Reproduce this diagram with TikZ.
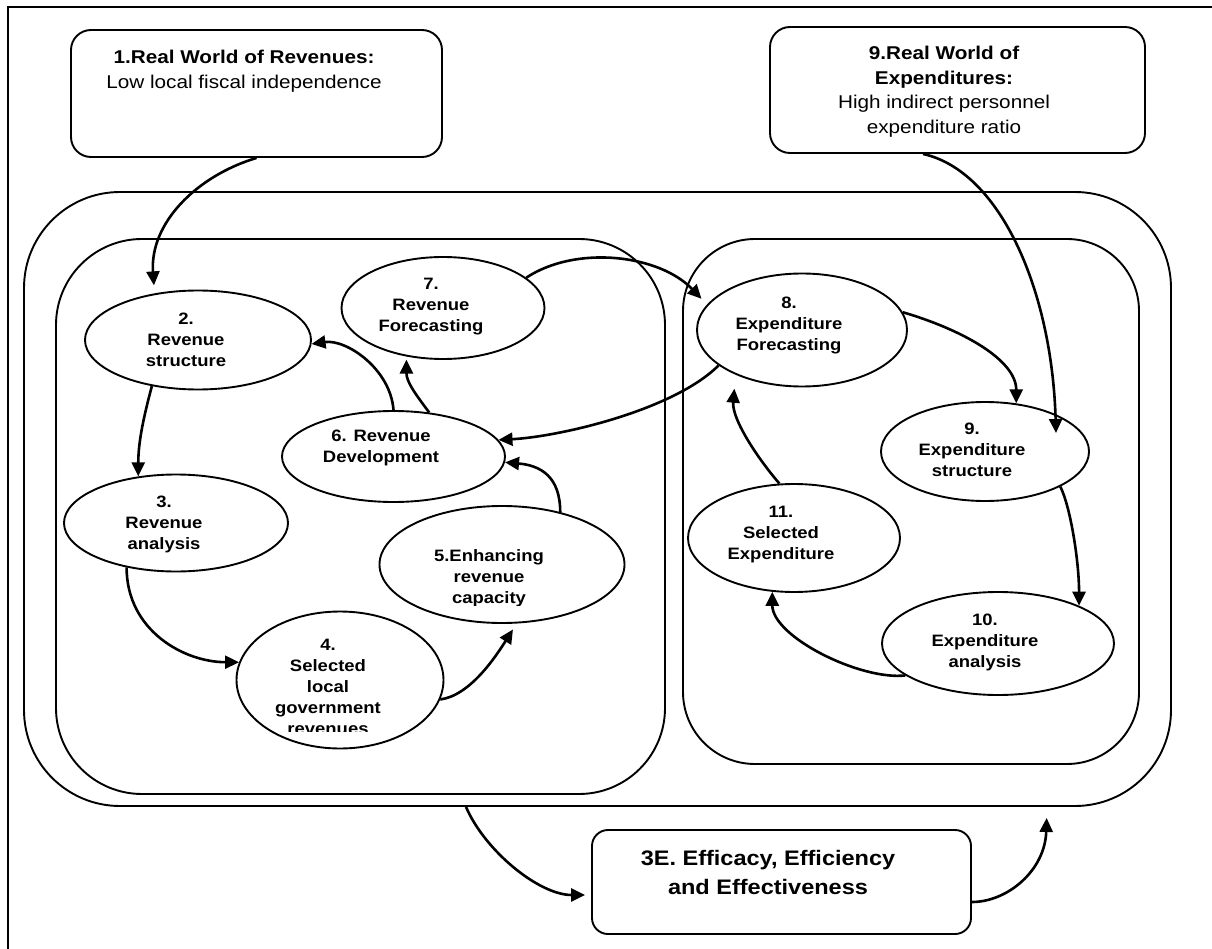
\documentclass[tikz,border=0pt]{standalone}
\usepackage{fontspec}
\setmainfont{Liberation Sans}[FakeStretch=1.12]
\usetikzlibrary{shapes.geometric,arrows.meta}

\begin{document}
\begin{tikzpicture}[x=1pt, y=-1pt,
    stage/.style={draw, ellipse, line width=1.9pt, inner sep=0pt},
    panel/.style={draw, rectangle, line width=1.9pt, inner sep=0pt},
    lbl/.style={align=center, inner sep=0pt, font=\bfseries\fontsize{16.5}{21}\selectfont},
    flow/.style={-{Triangle[length=14pt,width=13pt]}, line width=2.6pt}]
    \useasboundingbox (0,0) rectangle (1212,949);

    % Frame (left and top edges only fall on the page)
    \draw[line width=1.6pt] (8,949) -- (8,7) -- (1212,7);

    % Panels
    \node[panel, rounded corners=96pt, minimum width=1147pt, minimum height=614pt] (outer) at (597.5,499) {};
    \node[panel, rounded corners=86pt, minimum width=609pt, minimum height=555pt] (rev) at (360.5,516.5) {};
    \node[panel, rounded corners=72pt, minimum width=456pt, minimum height=525pt] (exp) at (911,501.5) {};

    % Real world boxes and the 3E box
    \node[panel, rounded corners=20pt, minimum width=371pt, minimum height=127pt] (world1) at (256.5,93.5) {};
    \node[panel, rounded corners=20pt, minimum width=375pt, minimum height=126pt] (world9) at (957.5,90) {};
    \node[panel, rounded corners=16pt, minimum width=379pt, minimum height=104pt] (eee) at (781.5,882) {};
    \node[align=center, inner sep=0pt, font=\fontsize{18.5}{24.5}\selectfont] (world1txt) at (244,71)
        {\textbf{1.Real World of Revenues:}\\Low local fiscal independence};
    \node[align=center, inner sep=0pt, font=\fontsize{18.5}{24.5}\selectfont] (world9txt) at (944,91.5)
        {\textbf{9.Real World of}\\\textbf{Expenditures:}\\High indirect personnel\\expenditure ratio};
    \node[lbl, font=\bfseries\fontsize{21}{29}\selectfont] (eeetxt) at (768,872.5) {3E. Efficacy, Efficiency\\and Effectiveness};

    % Revenue stages
    \node[stage, minimum width=226pt, minimum height=99pt] (s2) at (198,340) {};
    \node[stage, minimum width=224pt, minimum height=97pt] (s3) at (176,523) {};
    \node[stage, minimum width=207pt, minimum height=137pt] (s4) at (340,680) {};
    \node[stage, minimum width=245pt, minimum height=117pt] (s5) at (502,564.5) {};
    \node[stage, minimum width=223pt, minimum height=91pt] (s6) at (393.5,456.5) {};
    \node[stage, minimum width=203pt, minimum height=102pt] (s7) at (443,308) {};
    \node[lbl] (s2txt) at (186,340) {2.\\Revenue\\structure};
    \node[lbl] (s3txt) at (164,524) {3.\\Revenue\\analysis};
    \begin{scope}
        \clip (230,600) rectangle (450,731);
        \node[lbl] (s4txt) at (328,687) {4.\\Selected\\local\\government\\revenues};
    \end{scope}
    \begin{scope}
        \clip (380,520) rectangle (620,605);
        \node[lbl] (s5txt) at (489,578) {5.Enhancing\\revenue\\capacity};
    \end{scope}
    \node[lbl] (s6txt) at (381,448) {6. Revenue\\Development};
    \node[lbl] (s7txt) at (431,307) {7.\\Revenue\\Forecasting};

    % Expenditure stages
    \node[stage, minimum width=210pt, minimum height=113pt] (s8) at (802,330) {};
    \node[stage, minimum width=208pt, minimum height=99pt] (s9) at (985,451.5) {};
    \node[stage, minimum width=232pt, minimum height=103pt] (s10) at (998,643.5) {};
    \node[stage, minimum width=212pt, minimum height=108pt] (s11) at (794,538) {};
    \node[lbl] (s8txt) at (789,325) {8.\\Expenditure\\Forecasting};
    \node[lbl] (s9txt) at (972,450) {9.\\Expenditure\\structure};
    \node[lbl] (s10txt) at (985,642) {10.\\Expenditure\\analysis};
    \node[lbl] (s11txt) at (781,535) {11.\\Selected\\Expenditure};
    \coordinate (s9in) at (1056,433);

    % Revenue cycle
    \draw[flow, shorten >=8pt] (world1.south) .. controls +(-60,18) and +(-5,-70) .. (s2.133);
    \draw[flow] (s2.225) .. controls +(-8,30) and +(0,-35) .. (s3.129);
    \draw[flow] (s3.222) .. controls +(0,63) and +(-55,0) .. (s4.170);
    \draw[flow, shorten >=7pt] (s4.-11) .. controls +(30,-4) and +(-21,33) .. (s5.-76);
    \draw[flow] (s5.42) .. controls +(0,-36) and +(35,3) .. (s6.-3);
    \draw[flow] (s6.north) .. controls +(-3,-41) and +(35,-5) .. (s2.-2);
    \draw[flow, shorten >=3pt] (s6.51) .. controls +(-15,-20) and +(0,25) .. (s7.233);
    \draw[flow, shorten >=8pt] (s7.20) .. controls +(50,-33) and +(-48,-50) .. (s8.165);

    % Expenditure cycle
    \draw[flow] (s8.10) .. controls +(58,17) and +(0,-44) .. (s9.57);
    \draw[flow] ([xshift=-34.5pt]world9.south) .. controls +(77,17) and +(-4,-143) .. (s9in);
    \draw[flow] (s9.-25) .. controls +(10,20) and +(0,-45) .. (s10.25);
    \draw[flow] (s10.199) .. controls +(-45,5) and +(0,45) .. (s11.248);
    \draw[flow, shorten >=14pt] (s11.105) .. controls +(-20,-23) and +(-4,45) .. (s8.214);
    \draw[flow] (s8.203) .. controls +(-45,45) and +(60,-3) .. (s6.9);

    % 3E loop
    \draw[flow, shorten >=6pt] ([xshift=-131.5pt]outer.south) .. controls +(19,44) and +(-52,0) .. ([yshift=-13pt]eee.west);
    \draw[flow, shorten >=11pt] ([yshift=-20pt]eee.east) .. controls +(35,0) and +(-2,64) .. ([xshift=449.5pt]outer.south);

\end{tikzpicture}
\end{document}
